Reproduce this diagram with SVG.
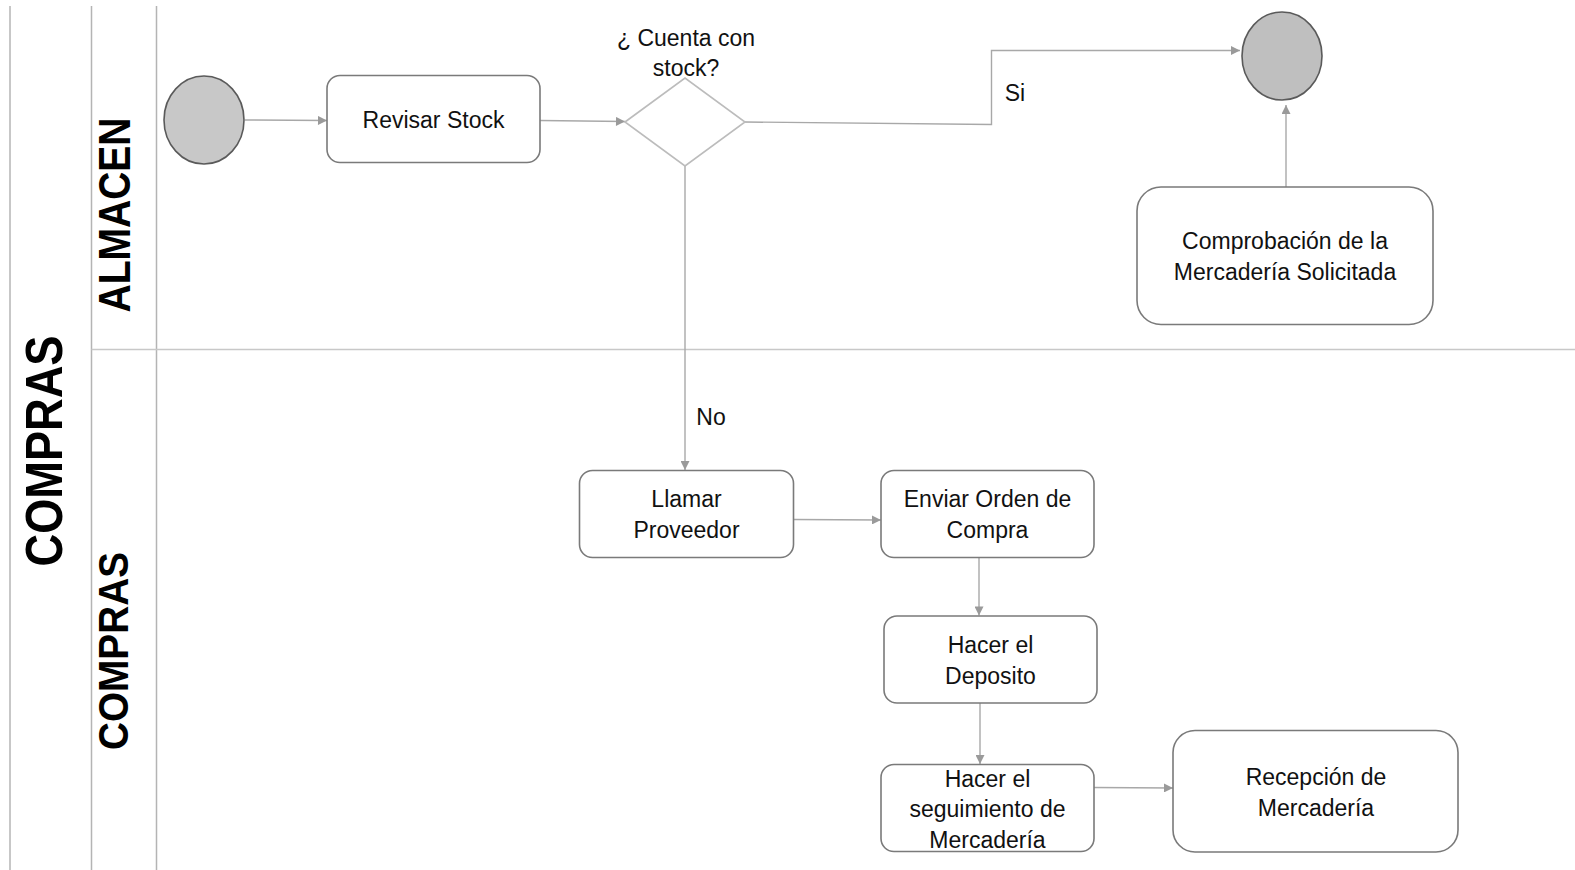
<svg xmlns="http://www.w3.org/2000/svg" width="1575" height="870" viewBox="0 0 1575 870">
  <style>
    .lane { stroke: #b4b4b4; stroke-width: 1.5; fill: none; }
    .sep { stroke: #c8c8c8; stroke-width: 1.5; fill: none; }
    .pool { font-family: "Liberation Sans", Arial, sans-serif; font-weight: bold; fill: #000; text-anchor: middle; }
    .task { fill: #fff; stroke: #7a7a7a; stroke-width: 1.6; }
    .event { stroke: #5a5a5a; stroke-width: 1.6; }
    .gateway { fill: #fff; stroke: #bcbcbc; stroke-width: 1.6; }
    .lbl { font-family: "Liberation Sans", Arial, sans-serif; font-size: 23px; fill: #111; text-anchor: middle; }
    .flow { stroke: #a8a8a8; stroke-width: 1.4; fill: none; marker-end: url(#arrow); }
  </style>
  <defs>
    <marker id="arrow" viewBox="0 0 10 10" refX="10" refY="5" markerWidth="10" markerHeight="9" markerUnits="userSpaceOnUse" orient="auto">
      <path d="M0,0 L10,5 L0,10 Z" fill="#9a9a9a"/>
    </marker>
  </defs>
  <rect width="1575" height="870" fill="#fff"/>

  <!-- pool and lane frame -->
  <g id="lanes">
    <line class="lane" x1="10" y1="6" x2="10" y2="870"/>
    <line class="lane" x1="91.5" y1="6" x2="91.5" y2="870"/>
    <line class="lane" x1="156.5" y1="6" x2="156.5" y2="870"/>
    <line class="sep" x1="91.5" y1="349.5" x2="1575" y2="349.5"/>
    <text class="pool" font-size="52" textLength="231" lengthAdjust="spacingAndGlyphs" transform="translate(62,451) rotate(-90)">COMPRAS</text>
    <text class="pool" font-size="44" textLength="195" lengthAdjust="spacingAndGlyphs" transform="translate(130,215) rotate(-90)">ALMACEN</text>
    <text class="pool" font-size="42" textLength="198" lengthAdjust="spacingAndGlyphs" transform="translate(128,651) rotate(-90)">COMPRAS</text>
  </g>

  <!-- sequence flows -->
  <g id="connectors">
    <line class="flow" x1="245" y1="120" x2="327" y2="120.5"/>
    <line class="flow" x1="540" y1="120.5" x2="625" y2="121.5"/>
    <polyline class="flow" points="745,122 991.5,124.5 991.5,50.5 1240,50.5"/>
    <line class="flow" x1="1286" y1="187" x2="1286" y2="105"/>
    <line class="flow" x1="685" y1="166" x2="685" y2="470"/>
    <line class="flow" x1="794" y1="519.5" x2="881" y2="520"/>
    <line class="flow" x1="979" y1="557.5" x2="979" y2="615.5"/>
    <line class="flow" x1="980" y1="703" x2="980" y2="764"/>
    <line class="flow" x1="1094" y1="787.5" x2="1173" y2="788"/>
    <text class="lbl" x="1015" y="101" font-size="22">Si</text>
    <text class="lbl" x="711" y="425" font-size="22">No</text>
  </g>

  <g id="start">
    <ellipse class="event" cx="204" cy="120" rx="40" ry="44" fill="#c8c8c8"/>
  </g>

  <g id="revisar-stock">
    <rect class="task" x="327" y="75.5" width="213" height="87" rx="13"/>
    <text class="lbl" x="433.5" y="127.5" font-size="20.5">Revisar Stock</text>
  </g>

  <g id="cuenta-con-stock">
    <polygon class="gateway" points="625,122 685,78 745,122 685,166"/>
    <text class="lbl" x="686" y="46" font-size="22">¿ Cuenta con</text>
    <text class="lbl" x="686" y="76" font-size="22">stock?</text>
  </g>

  <g id="end">
    <ellipse class="event" cx="1282" cy="56" rx="40" ry="44" fill="#bfbfbf"/>
  </g>

  <g id="comprobacion">
    <rect class="task" x="1137" y="187" width="296" height="137.5" rx="24"/>
    <text class="lbl" x="1285" y="249">Comprobación de la</text>
    <text class="lbl" x="1285" y="280">Mercadería Solicitada</text>
  </g>

  <g id="llamar-proveedor">
    <rect class="task" x="579.5" y="470.5" width="214" height="87" rx="13"/>
    <text class="lbl" x="686.5" y="507">Llamar</text>
    <text class="lbl" x="686.5" y="538">Proveedor</text>
  </g>

  <g id="enviar-orden">
    <rect class="task" x="881" y="470.5" width="213" height="87" rx="13"/>
    <text class="lbl" x="987.5" y="507">Enviar Orden de</text>
    <text class="lbl" x="987.5" y="538">Compra</text>
  </g>

  <g id="hacer-deposito">
    <rect class="task" x="884" y="616" width="213" height="87" rx="13"/>
    <text class="lbl" x="990.5" y="653">Hacer el</text>
    <text class="lbl" x="990.5" y="684">Deposito</text>
  </g>

  <g id="seguimiento">
    <rect class="task" x="881" y="764.5" width="213" height="87" rx="13"/>
    <text class="lbl" x="987.5" y="786.5">Hacer el</text>
    <text class="lbl" x="987.5" y="817">seguimiento de</text>
    <text class="lbl" x="987.5" y="847.5">Mercadería</text>
  </g>

  <g id="recepcion">
    <rect class="task" x="1173" y="730.5" width="285" height="121.5" rx="22"/>
    <text class="lbl" x="1316" y="785">Recepción  de</text>
    <text class="lbl" x="1316" y="815.5">Mercadería</text>
  </g>
</svg>
